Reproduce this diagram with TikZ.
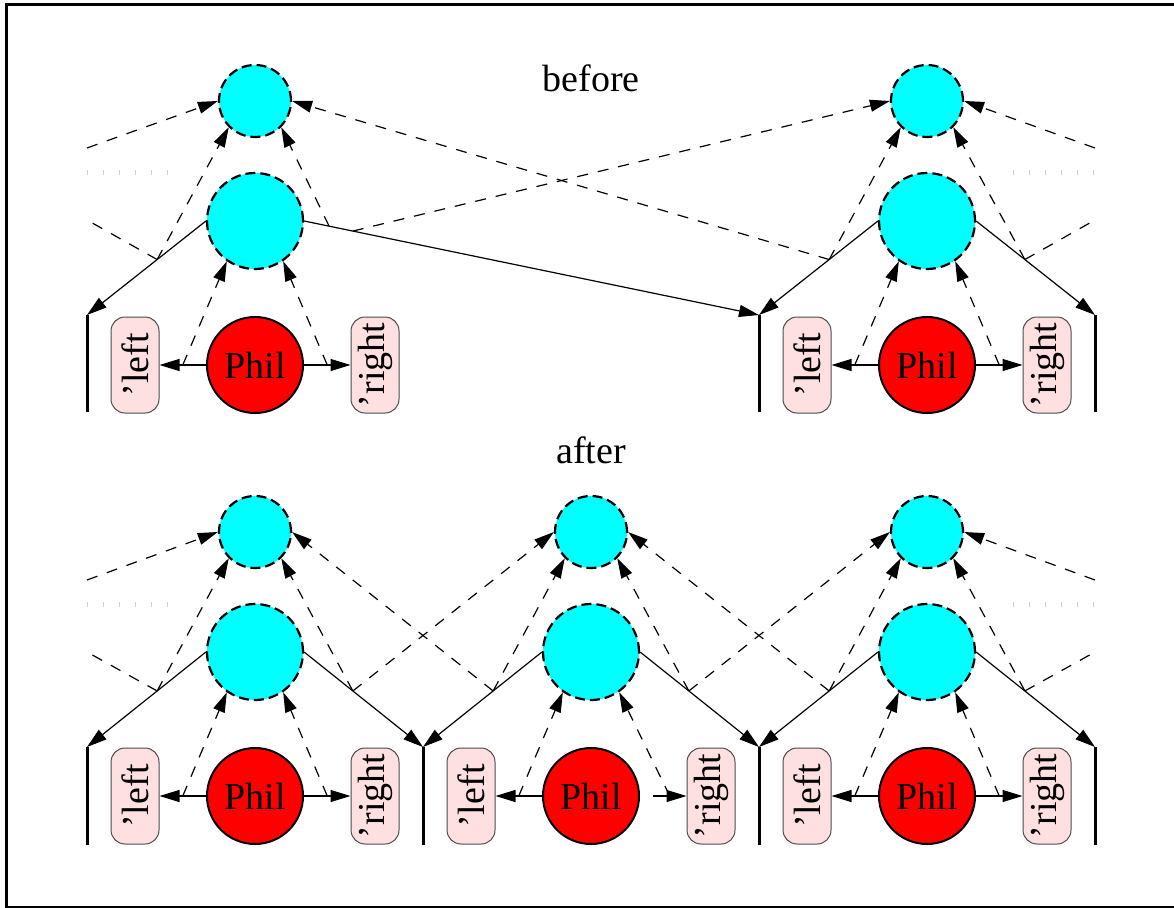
\documentclass[tikz,border=0pt]{standalone}
\usepackage{fontspec}
\setmainfont{Liberation Serif}
\usetikzlibrary{arrows.meta}
\definecolor{boxpink}{RGB}{255,224,224}
\definecolor{aqua}{RGB}{0,255,255}
\definecolor{pred}{RGB}{255,0,0}
\begin{document}
\begin{tikzpicture}[x=1pt,y=-1pt,
  font=\fontsize{38}{40}\selectfont,
  tcirc/.style={circle,fill=aqua,draw,dash pattern=on 10pt off 5pt,line width=2.2pt,minimum size=72pt,inner sep=0pt},
  mcirc/.style={tcirc,minimum size=96pt},
  phil/.style={circle,fill=pred,draw,line width=2pt,minimum size=96pt,inner sep=0pt},
  qbox/.style={draw=black!70,fill=boxpink,rounded corners=14pt,minimum width=48pt,minimum height=96pt,inner sep=0pt,line width=1pt},
  edge/.style={-{Triangle[length=20pt,width=12pt]},line width=1.2pt},
  dedge/.style={edge,dash pattern=on 11pt off 10pt},
  dline/.style={line width=1.2pt,dash pattern=on 11pt off 10pt},
  wall/.style={line width=3pt},
  ticks/.style={draw=black!20,line width=5pt,dash pattern=on 1pt off 15pt}]
\useasboundingbox (0,0) rectangle (1174,907);
\draw[line width=3pt] (6.5,4.5) rectangle (1180,907.5);

\node (before) at (591,78) {before};
\node (after) at (591,450) {after};

% clusters
\foreach \i/\cx/\dy/\s in {a/255/0/0, b/927/0/0, c/255/431/0, d/591/431/13, e/927/431/0}{
  \node[tcirc] (T\i) at (\cx,101+\dy) {};
  \node[mcirc] (M\i) at (\cx,221+\dy) {};
  \node[phil] (P\i) at (\cx,365+\dy) {Phil};
  \node[qbox] (L\i) at (\cx-120,365+\dy) {\rotatebox{90}{’left}};
  \node[qbox] (R\i) at (\cx+120,365+\dy) {\rotatebox{90}{’right}};
  \draw[edge] (P\i.west) -- coordinate[pos=.5] (pl\i) (L\i.east);
  \draw[edge] ([xshift=\s pt]P\i.east) -- coordinate[pos=.5] (pr\i) (R\i.west);
  \draw[dedge] (pl\i) -- (M\i.235);
  \draw[dedge] (pr\i) -- (M\i.305);
}

% walls, top row
\coordinate (wt0) at (87,315);
\coordinate (wt2) at (759,315);
\coordinate (wt3) at (1095,315);
\foreach \w in {wt0,wt2,wt3}{\draw[wall] (\w) -- ++(0,97);}
% walls, bottom row
\coordinate (wb0) at (87,747);
\coordinate (wb1) at (423,747);
\coordinate (wb2) at (759,747);
\coordinate (wb3) at (1095,747);
\foreach \w in {wb0,wb1,wb2,wb3}{\draw[wall] (\w) -- ++(0,98);}

% off-picture ends
\coordinate (oL1) at (87,220);
\coordinate (oL2) at (87,148);
\coordinate (oR1) at (1095,220);
\coordinate (oR2) at (1095,148);
\coordinate (oL1b) at (87,652);
\coordinate (oL2b) at (87,580);
\coordinate (oR1b) at (1095,652);
\coordinate (oR2b) at (1095,580);

% top row solid edges
\draw[edge] (Ma.west) -- coordinate[pos=.41] (xa1) (wt0);
\draw[edge] (Ma.east) -- coordinate[pos=.055] (xa2) coordinate[pos=.107] (xa3) (wt2);
\draw[edge] (Mb.west) -- coordinate[pos=.41] (xb1) (wt2);
\draw[edge] (Mb.east) -- coordinate[pos=.41] (xb2) (wt3);

% top row dashed edges
\draw[dedge] (xa1) -- (Ta.south west);
\draw[dline] (xa1) -- (oL1);
\draw[dedge] (oL2) -- (Ta.west);
\draw[dedge] (xa2) -- (Ta.south east);
\draw[dedge] (xa3) -- (Tb.west);
\draw[dedge] (xb1) -- (Tb.south west);
\draw[dedge] (xb1) -- (Ta.east);
\draw[dedge] (xb2) -- (Tb.south east);
\draw[dline] (xb2) -- (oR1);
\draw[dedge] (oR2) -- (Tb.east);

% bottom row solid edges
\draw[edge] (Mc.west) -- coordinate[pos=.41] (xc1) (wb0);
\draw[edge] (Mc.east) -- coordinate[pos=.41] (xc2) (wb1);
\draw[edge] (Md.west) -- coordinate[pos=.41] (xd1) (wb1);
\draw[edge] (Md.east) -- coordinate[pos=.41] (xd2) (wb2);
\draw[edge] (Me.west) -- coordinate[pos=.41] (xe1) (wb2);
\draw[edge] (Me.east) -- coordinate[pos=.41] (xe2) (wb3);

% bottom row dashed edges
\draw[dedge] (xc1) -- (Tc.south west);
\draw[dline] (xc1) -- (oL1b);
\draw[dedge] (oL2b) -- (Tc.west);
\draw[dedge] (xc2) -- (Tc.south east);
\draw[dedge] (xc2) -- (Td.west);
\draw[dedge] (xd1) -- (Td.south west);
\draw[dedge] (xd1) -- (Tc.east);
\draw[dedge] (xd2) -- (Td.south east);
\draw[dedge] (xd2) -- (Te.west);
\draw[dedge] (xe1) -- (Te.south west);
\draw[dedge] (xe1) -- (Td.east);
\draw[dedge] (xe2) -- (Te.south east);
\draw[dline] (xe2) -- (oR1b);
\draw[dedge] (oR2b) -- (Te.east);

% gray tick rows
\draw[ticks] (87,172) -- (170,172);
\draw[ticks] (1013,172) -- (1096,172);
\draw[ticks] (87,604) -- (170,604);
\draw[ticks] (1013,604) -- (1096,604);
\end{tikzpicture}
\end{document}
